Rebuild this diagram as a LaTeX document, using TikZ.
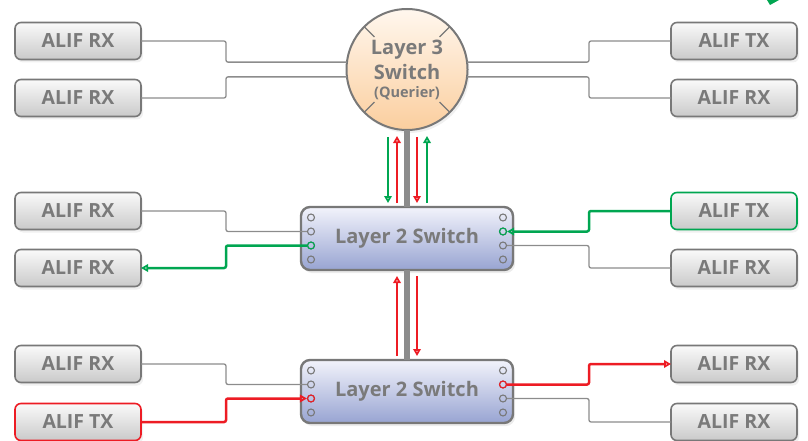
\documentclass[tikz,border=0pt]{standalone}
\usepackage{fontspec}
\setsansfont{Open Sans}
\usetikzlibrary{positioning, calc, arrows.meta, shadows}

\definecolor{alifgreen}{RGB}{0,166,81}
\definecolor{alifred}{RGB}{237,28,36}
\definecolor{linkgray}{RGB}{140,140,140}
\definecolor{txtgray}{RGB}{122,122,122}
\definecolor{bordergray}{RGB}{120,120,120}
\definecolor{swtop}{RGB}{242,243,251}
\definecolor{swbottom}{RGB}{152,164,210}
\definecolor{qtop}{RGB}{255,247,238}
\definecolor{qbottom}{RGB}{251,206,158}

\begin{document}
\begin{tikzpicture}[
    x=1pt, y=1pt,
    >={Triangle[open,length=7pt,width=7.5pt]},
    font=\sffamily\bfseries,
    % Styles
    alif/.style={draw=bordergray, line width=1.6pt, outer sep=0pt, rounded corners=6pt, minimum width=126pt, minimum height=37pt, top color=gray!4, bottom color=gray!42, text=txtgray, font=\sffamily\bfseries\fontsize{19.5}{21}\selectfont, drop shadow={opacity=0.12, shadow xshift=2pt, shadow yshift=-3pt}},
    l2switch/.style={draw=bordergray, line width=2.4pt, outer sep=0pt, rounded corners=9pt, minimum width=212pt, minimum height=63pt, top color=swtop, bottom color=swbottom, text=txtgray, font=\sffamily\bfseries\fontsize{20}{22}\selectfont, drop shadow={opacity=0.15, shadow xshift=2pt, shadow yshift=-3pt}},
    l3switch/.style={circle, draw=bordergray, line width=2pt, outer sep=0pt, minimum size=121pt, inner sep=0pt, top color=qtop, bottom color=qbottom, text=txtgray, align=center, font=\sffamily\bfseries\fontsize{20}{25}\selectfont, drop shadow={opacity=0.12, shadow xshift=2pt, shadow yshift=-3pt}},
    port/.style={circle, draw=bordergray, line width=1.1pt, minimum size=7pt, inner sep=0pt},
    link/.style={draw=linkgray, line width=1.3pt, rounded corners=2pt},
    trunk/.style={draw=linkgray, line width=6pt},
    grnlink/.style={draw=alifgreen, line width=2.5pt, rounded corners=2pt, ->},
    redlink/.style={draw=alifred, line width=2.5pt, rounded corners=2pt, ->}
]
\useasboundingbox (0,0) rectangle (808,-441);

% 1. Switches
\node[l3switch] (querier) at (407,-69.5) {Layer 3\\Switch\\[-7pt]{\fontsize{14.5}{17}\selectfont(Querier)}};
\foreach \a in {45,135,225,315}
    \draw[bordergray, line width=1.3pt] ($(querier.center)+(\a:46)$) -- (querier.\a);
\node[l2switch, below=77pt of querier] (sw1) {Layer 2 Switch};
\node[l2switch, below=90pt of sw1] (sw2) {Layer 2 Switch};

% 2. Ports
\foreach \sw in {sw1,sw2}
    \foreach \i/\dy in {1/21,2/7,3/-7,4/-21} {
        \node[port] (\sw-l\i) at ($(\sw.west)+(10,\dy)$) {};
        \node[port] (\sw-r\i) at ($(\sw.east)+(-10,\dy)$) {};
    }
\node[port, draw=alifgreen] at (sw1-l3) {};
\node[port, draw=alifgreen] at (sw1-r2) {};
\node[port, draw=alifred] at (sw2-l3) {};
\node[port, draw=alifred] at (sw2-r2) {};

% 3. ALIF units
\node[alif] (rxL1) at (78,-41) {ALIF RX};
\node[alif, below=20pt of rxL1] (rxL2) {ALIF RX};
\node[alif, below=76pt of rxL2] (rxL3) {ALIF RX};
\node[alif, below=20pt of rxL3] (rxL4) {ALIF RX};
\node[alif, below=59pt of rxL4] (rxL5) {ALIF RX};
\node[alif, below=21pt of rxL5, draw=alifred] (txL6) {ALIF TX};

\node[alif, right=530pt of rxL1] (txR1) {ALIF TX};
\node[alif, right=530pt of rxL2] (rxR2) {ALIF RX};
\node[alif, right=530pt of rxL3, draw=alifgreen] (txR3) {ALIF TX};
\node[alif, right=530pt of rxL4] (rxR4) {ALIF RX};
\node[alif, right=530pt of rxL5] (rxR5) {ALIF RX};
\node[alif, right=530pt of txL6] (rxR6) {ALIF RX};

\coordinate (bendL) at (226,0);
\coordinate (bendR) at (589,0);

% 4. Querier links
\draw[link] (rxL1) -| (bendL |- querier.173) -- (querier.173);
\draw[link] (rxL2) -| (bendL |- querier.187) -- (querier.187);
\draw[link] (txR1) -| (bendR |- querier.7) -- (querier.7);
\draw[link] (rxR2) -| (bendR |- querier.353) -- (querier.353);

% 5. Switch links
\draw[link] (rxL3) -| (bendL |- sw1-l2) -- (sw1-l2);
\draw[grnlink] (sw1-l3) -| (bendL |- rxL4) -- (rxL4);
\draw[grnlink] (txR3) -| (bendR |- sw1-r2) -- (sw1-r2);
\draw[link] (sw1-r3) -| (bendR |- rxR4) -- (rxR4);

\draw[link] (rxL5) -| (bendL |- sw2-l2) -- (sw2-l2);
\draw[redlink] (txL6) -| (bendL |- sw2-l3) -- (sw2-l3);
\draw[redlink] (sw2-r2) -| (bendR |- rxR5) -- (rxR5);
\draw[link] (sw2-r3) -| (bendR |- rxR6) -- (rxR6);

% 6. Uplinks
\draw[trunk] (querier) -- (sw1);
\draw[trunk] (sw1) -- (sw2);
\draw[grnlink] ([xshift=-19pt,yshift=-7pt]querier.south) -- ([xshift=-19pt,yshift=4pt]sw1.north);
\draw[redlink] ([xshift=-10pt,yshift=4pt]sw1.north) -- ([xshift=-10pt,yshift=-6pt]querier.south);
\draw[redlink] ([xshift=10pt,yshift=-7pt]querier.south) -- ([xshift=10pt,yshift=4pt]sw1.north);
\draw[grnlink] ([xshift=20pt,yshift=4pt]sw1.north) -- ([xshift=20pt,yshift=-6pt]querier.south);
\draw[redlink] ([xshift=-10pt,yshift=4pt]sw2.north) -- ([xshift=-10pt,yshift=-6pt]sw1.south);
\draw[redlink] ([xshift=10pt,yshift=-6pt]sw1.south) -- ([xshift=10pt,yshift=4pt]sw2.north);

\fill[alifgreen] (767,0) -- (779,0) -- (770,-5) -- cycle;
\end{tikzpicture}
\end{document}
